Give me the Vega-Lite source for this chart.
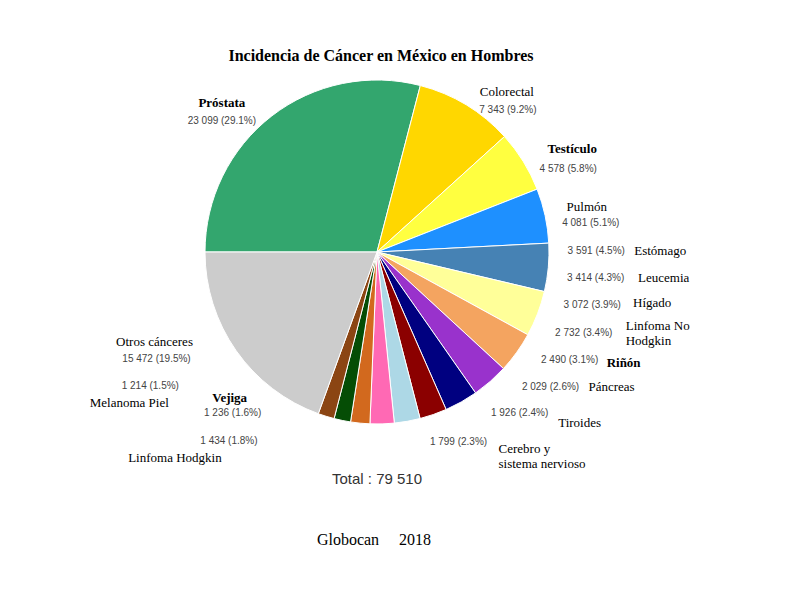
{
  "$schema": "https://vega.github.io/schema/vega-lite/v6.json",
  "autosize": "none",
  "width": 754,
  "height": 364,
  "padding": {"left": 0, "top": 70, "right": 46, "bottom": 166},
  "background": "white",
  "config": {"view": {"stroke": null}},
  "title": {
    "text": "Incidencia de Cáncer en México en Hombres",
    "font": "Liberation Serif",
    "fontSize": 16,
    "fontWeight": "bold",
    "color": "black",
    "anchor": "middle",
    "frame": "group",
    "baseline": "alphabetic",
    "offset": -7,
    "dx": 4
  },
  "data": {
    "values": [
      {"rank": 1, "name": "Próstata", "cases": 23099, "pct": 29.1},
      {"rank": 2, "name": "Colorectal", "cases": 7343, "pct": 9.2},
      {"rank": 3, "name": "Testículo", "cases": 4578, "pct": 5.8},
      {"rank": 4, "name": "Pulmón", "cases": 4081, "pct": 5.1},
      {"rank": 5, "name": "Estómago", "cases": 3591, "pct": 4.5},
      {"rank": 6, "name": "Leucemia", "cases": 3414, "pct": 4.3},
      {"rank": 7, "name": "Hígado", "cases": 3072, "pct": 3.9},
      {"rank": 8, "name": "Linfoma No\nHodgkin", "cases": 2732, "pct": 3.4},
      {"rank": 9, "name": "Riñón", "cases": 2490, "pct": 3.1},
      {"rank": 10, "name": "Páncreas", "cases": 2029, "pct": 2.6},
      {"rank": 11, "name": "Tiroides", "cases": 1926, "pct": 2.4},
      {"rank": 12, "name": "Cerebro y\nsistema nervioso", "cases": 1799, "pct": 2.3},
      {"rank": 13, "name": "Linfoma Hodgkin", "cases": 1434, "pct": 1.8},
      {"rank": 14, "name": "Vejiga", "cases": 1236, "pct": 1.6},
      {"rank": 15, "name": "Melanoma Piel", "cases": 1214, "pct": 1.5},
      {"rank": 16, "name": "Otros cánceres", "cases": 15472, "pct": 19.5}
    ]
  },
  "layer": [
    {
      "mark": {"type": "arc", "outerRadius": 172, "stroke": "white", "strokeWidth": 1},
      "encoding": {
        "theta": {"field": "cases", "type": "quantitative", "stack": true, "scale": {"range": [4.712389, 10.995574]}},
        "order": {"field": "rank", "type": "quantitative"},
        "color": {
          "field": "name",
          "type": "nominal",
          "legend": null,
          "scale": {
            "domain": ["Próstata", "Colorectal", "Testículo", "Pulmón", "Estómago", "Leucemia", "Hígado", "Linfoma No\nHodgkin", "Riñón", "Páncreas", "Tiroides", "Cerebro y\nsistema nervioso", "Linfoma Hodgkin", "Vejiga", "Melanoma Piel", "Otros cánceres"],
            "range": ["#33a66e", "#ffd700", "#ffff40", "#1e90ff", "#4682b4", "#ffff99", "#f4a460", "#9932cc", "#000080", "#8b0000", "#add8e6", "#ff69b4", "#d2691e", "#054d05", "#8b4513", "#cccccc"]
          }
        }
      }
    },
    {
      "transform": [
        {"calculate": "replace(format(datum.cases, ','), ',', ' ') + ' (' + format(datum.pct, '.1f') + '%)'", "as": "valueLabel"}
      ],
      "mark": {
        "type": "text",
        "radius": 185,
        "font": "Liberation Sans",
        "fontSize": 10,
        "fill": "#444444",
        "align": "center",
        "baseline": "middle",
        "dx": {"expr": "[-42, 35, 34, 33, 35, 46, 65, 85, 102, 113, 110, 76, -130, -107, -172, -69][datum.rank - 1]"},
        "dy": {"expr": "[15, 16, 14, 10, -18, -40, -55, -58, -53, -40, -21, 5, 5, -20, -43, 1][datum.rank - 1]"}
      },
      "encoding": {
        "theta": {"field": "cases", "type": "quantitative", "stack": true},
        "order": {"field": "rank", "type": "quantitative"},
        "text": {"field": "valueLabel", "type": "nominal"}
      }
    },
    {
      "mark": {
        "type": "text",
        "radius": 185,
        "font": "Liberation Serif",
        "fontSize": 13,
        "fill": "black",
        "lineBreak": "\n",
        "lineHeight": 15,
        "baseline": "middle",
        "align": {"expr": "datum.rank == 8 || datum.rank == 12 ? 'left' : 'center'"},
        "fontWeight": {"expr": "['bold', 'normal', 'bold', 'normal', 'normal', 'normal', 'normal', 'normal', 'bold', 'normal', 'normal', 'normal', 'normal', 'bold', 'normal', 'normal'][datum.rank - 1]"},
        "dx": {"expr": "[-42, 34, 38, 29, 99, 114, 125, 127, 156, 174, 170, 116, -184, -110, -193, -71][datum.rank - 1]"},
        "dy": {"expr": "[-3, -2, -6, -6, -18, -40, -57, -65, -50, -40, -11, 12, 22, -35, -26, -16][datum.rank - 1]"}
      },
      "encoding": {
        "theta": {"field": "cases", "type": "quantitative", "stack": true},
        "order": {"field": "rank", "type": "quantitative"},
        "text": {"field": "name", "type": "nominal"}
      }
    },
    {
      "transform": [
        {"aggregate": [{"op": "sum", "field": "cases", "as": "total"}]},
        {"calculate": "'Total : ' + replace(format(datum.total, ','), ',', ' ')", "as": "totalLabel"}
      ],
      "mark": {"type": "text", "font": "Liberation Sans", "fontSize": 15, "fill": "#333333", "align": "center", "baseline": "middle", "dy": 227},
      "encoding": {"text": {"field": "totalLabel", "type": "nominal"}}
    },
    {
      "data": {"values": [{"source": "Globocan", "year": 2018}]},
      "transform": [
        {"calculate": "datum.source + '\u00a0\u00a0\u00a0\u00a0 ' + datum.year", "as": "sourceLabel"}
      ],
      "mark": {"type": "text", "font": "Liberation Serif", "fontSize": 16, "fill": "black", "align": "center", "baseline": "middle", "dx": -3, "dy": 288},
      "encoding": {"text": {"field": "sourceLabel", "type": "nominal"}}
    }
  ]
}
